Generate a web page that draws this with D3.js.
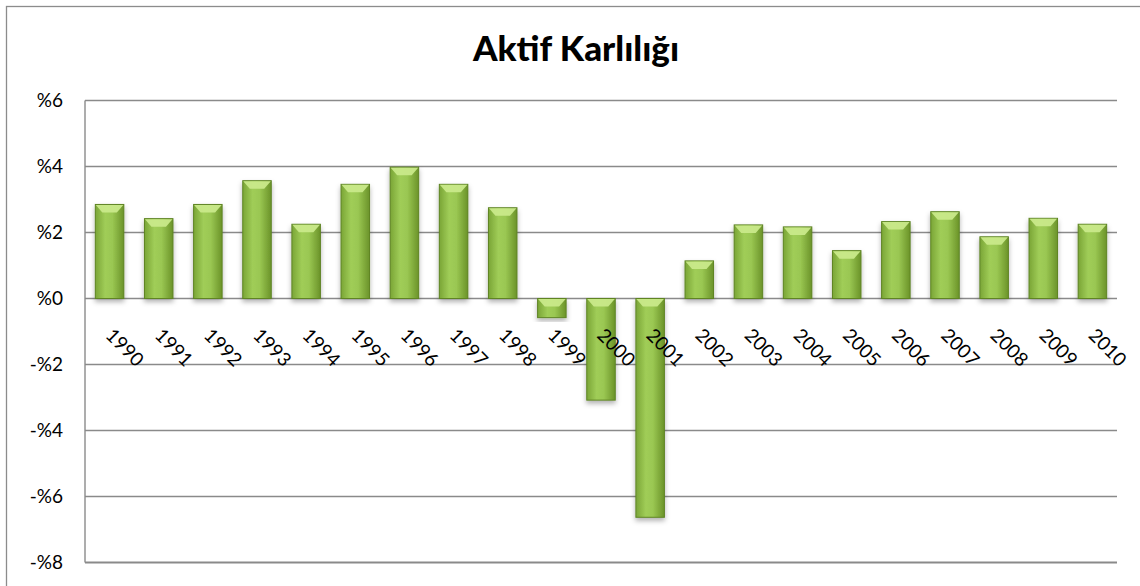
<!DOCTYPE html>
<html>
<head>
<meta charset="utf-8">
<script src="https://cdn.jsdelivr.net/npm/d3@7"></script>
<style>
  body { margin: 0; background: #fff; }
  svg { display: block; }
</style>
</head>
<body>
<div id="chart"></div>
<script>
'use strict';

// data
var years = ['1990','1991','1992','1993','1994','1995','1996','1997','1998','1999','2000',
             '2001','2002','2003','2004','2005','2006','2007','2008','2009','2010'];
var roa = [2.85, 2.42, 2.85, 3.57, 2.25, 3.46, 3.98, 3.46, 2.75, -0.58, -3.08,
           -6.63, 1.14, 2.23, 2.17, 1.45, 2.33, 2.63, 1.87, 2.43, 2.25];
var yTicks = [-8, -6, -4, -2, 0, 2, 4, 6];

var width = 1140, height = 586;
var plot = {left: 85, right: 1117, top: 100.5, bottom: 562.5};

var svg = d3.select('#chart').append('svg')
    .attr('width', width)
    .attr('height', height);

var defs = svg.append('defs');
var grad = defs.append('linearGradient')
    .attr('id', 'barGrad')
    .attr('x1', '0%').attr('x2', '100%').attr('y1', '0%').attr('y2', '0%');
grad.append('stop').attr('offset', '0%').attr('stop-color', '#7aa536');
grad.append('stop').attr('offset', '35%').attr('stop-color', '#a0cd58');
grad.append('stop').attr('offset', '60%').attr('stop-color', '#9ac752');
grad.append('stop').attr('offset', '100%').attr('stop-color', '#6b9329');

var shadow = defs.append('filter').attr('id', 'shadow')
    .attr('x', '-30%').attr('y', '-10%').attr('width', '160%').attr('height', '130%');
shadow.append('feDropShadow')
    .attr('dx', 0).attr('dy', 3).attr('stdDeviation', 2.5)
    .attr('flood-color', '#000').attr('flood-opacity', 0.3);

// outer frame
svg.append('rect')
    .attr('x', 6.5).attr('y', 6.5)
    .attr('width', width + 10).attr('height', height + 10)
    .attr('fill', 'none')
    .attr('stroke', '#8c8c8c')
    .attr('stroke-width', 1.3);

// title
svg.append('text')
    .attr('x', 576)
    .attr('y', 61)
    .attr('text-anchor', 'middle')
    .style('font-family', 'Lato, "Open Sans", sans-serif')
    .style('font-weight', '900')
    .style('font-size', '35px')
    .attr('fill', '#000')
    .text('Aktif Karlılığı');

var x = d3.scaleBand()
    .domain(years)
    .range([plot.left, plot.right])
    .paddingInner(0.42)
    .paddingOuter(0.21);

var y = d3.scaleLinear()
    .domain([-8, 6])
    .range([plot.bottom, plot.top]);

// gridlines
svg.append('g')
  .selectAll('line')
  .data(yTicks)
  .enter().append('line')
    .attr('x1', plot.left)
    .attr('x2', plot.right)
    .attr('y1', function(d){ return y(d); })
    .attr('y2', function(d){ return y(d); })
    .attr('stroke', '#8a8a8a')
    .attr('stroke-width', function(d){ return d === -8 ? 2 : 1.4; });

// left axis line
svg.append('line')
    .attr('x1', plot.left).attr('x2', plot.left)
    .attr('y1', plot.top).attr('y2', plot.bottom)
    .attr('stroke', '#8a8a8a')
    .attr('stroke-width', 1.4);

// y tick labels
var yAxis = d3.axisLeft(y)
    .tickValues(yTicks)
    .tickSize(0)
    .tickPadding(22)
    .tickFormat(function(d){ return (d < 0 ? '-%' : '%') + Math.abs(d); });
var ya = svg.append('g')
    .attr('transform', 'translate(' + plot.left + ',0)')
    .call(yAxis);
ya.select('.domain').remove();
ya.selectAll('text')
    .style('font-family', 'Lato, "Open Sans", sans-serif')
    .style('font-size', '19px')
    .attr('fill', '#000');

// bars
var bars = svg.append('g').selectAll('g.bar')
    .data(roa)
    .enter().append('g')
    .attr('class', 'bar');

bars.append('rect')
    .attr('x', function(d, i){ return x(years[i]); })
    .attr('y', function(d){ return Math.min(y(d), y(0)); })
    .attr('width', x.bandwidth())
    .attr('height', function(d){ return Math.abs(y(d) - y(0)); })
    .attr('fill', 'url(#barGrad)')
    .attr('stroke', '#5e8424')
    .attr('stroke-width', 1)
    .attr('filter', 'url(#shadow)');

// bevel highlight on the outer end of each bar
bars.append('path')
    .attr('d', function(d, i){
        var x0 = x(years[i]), w = x.bandwidth();
        var yEnd = d >= 0 ? y(d) : y(0);
        var bev = Math.min(8, Math.abs(y(d) - y(0)) / 2);
        return 'M' + (x0 + 0.5) + ',' + (yEnd + 0.5) +
               'L' + (x0 + w - 0.5) + ',' + (yEnd + 0.5) +
               'L' + (x0 + w - 7) + ',' + (yEnd + bev) +
               'L' + (x0 + 7) + ',' + (yEnd + bev) + 'Z';
    })
    .attr('fill', '#c9e98a')
    .attr('opacity', 0.95);

// x labels, rotated
svg.append('g').selectAll('text')
    .data(years)
    .enter().append('text')
    .attr('transform', function(d){
        return 'translate(' + (x(d) + x.bandwidth() / 2 - 5) + ',' + (y(0) + 38) + ') rotate(45)';
    })
    .attr('text-anchor', 'start')
    .style('font-family', 'Lato, "Open Sans", sans-serif')
    .style('font-size', '19px')
    .attr('fill', '#000')
    .text(function(d){ return d; });
</script>
</body>
</html>
